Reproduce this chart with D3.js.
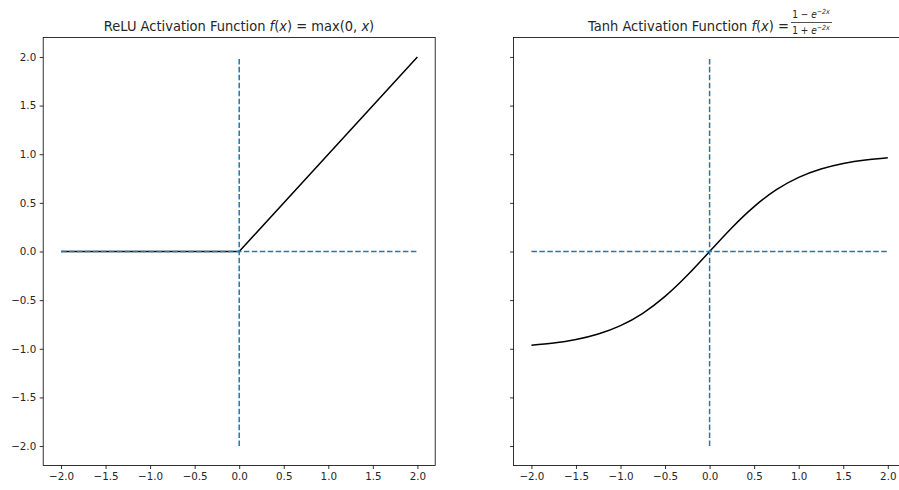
<!DOCTYPE html>
<html>
<head>
<meta charset="utf-8">
<script src="https://cdn.jsdelivr.net/npm/d3@7"></script>
<style>
  body { margin: 0; background: #fff; overflow: hidden; }
  svg { display: block; font-family: "DejaVu Sans", sans-serif; }
  .tick text { font-size: 10.3px; fill: #262626; }
</style>
</head>
<body>
<svg id="chart" width="899" height="490"></svg>
<script>
// tick values shared by both panels
const xTicks = [-2.0, -1.5, -1.0, -0.5, 0.0, 0.5, 1.0, 1.5, 2.0];
const yTicks = [-2.0, -1.5, -1.0, -0.5, 0.0, 0.5, 1.0, 1.5, 2.0];

// relu curve (corner points)
const reluX = [-2, 0, 2];
const reluY = [0, 0, 2];

// tanh curve
const tanhX = [-2, -1.75, -1.5, -1.25, -1, -0.75, -0.5, -0.25, 0, 0.25, 0.5, 0.75, 1, 1.25, 1.5, 1.75, 2];
const tanhY = [-0.964, -0.941, -0.905, -0.848, -0.762, -0.635, -0.462, -0.245, 0, 0.245, 0.462, 0.635, 0.762, 0.848, 0.905, 0.941, 0.964];

// dashed reference axes
const hLineX = [-2, 2];
const vLineY = [-2, 2];

const svg = d3.select('#chart');
const panelW = 392, plotTop = 37.5, plotBottom = 465.5;
const panels = [
  { left: 43.2, showY: true },
  { left: 513.6, showY: false }
];

panels.forEach((p, i) => {
  const x = d3.scaleLinear().domain([-2.2, 2.2]).range([p.left, p.left + panelW]);
  const y = d3.scaleLinear().domain([-2.2, 2.2]).range([plotBottom, plotTop]);
  const g = svg.append('g');

  const xAxis = g.append('g')
    .attr('transform', `translate(0,${plotBottom})`)
    .call(d3.axisBottom(x).tickValues(xTicks).tickSize(3.5).tickPadding(3.5)
      .tickFormat(d => d3.format('.1f')(d).replace('-', '\u2212')));
  const yAxis = g.append('g')
    .attr('transform', `translate(${p.left},0)`)
    .call(d3.axisLeft(y).tickValues(yTicks).tickSize(3.5).tickPadding(3.5)
      .tickFormat(d => p.showY ? d3.format('.1f')(d).replace('-', '\u2212') : ''));
  [xAxis, yAxis].forEach(a => {
    a.select('.domain').remove();
    a.attr('font-family', null).attr('font-size', null);
    a.selectAll('.tick line').attr('stroke', '#000').attr('stroke-width', 0.8);
  });

  const line = d3.line().x(d => x(d[0])).y(d => y(d[1]));
  if (i === 0) {
    g.append('path')
      .datum(d3.zip(reluX, reluY))
      .attr('d', line)
      .attr('fill', 'none').attr('stroke', '#000').attr('stroke-width', 1.5);
  } else {
    g.append('path')
      .datum(d3.zip(tanhX, tanhY))
      .attr('d', line.curve(d3.curveNatural))
      .attr('fill', 'none').attr('stroke', '#000').attr('stroke-width', 1.5);
  }

  const dashLine = d3.line().x(d => x(d[0])).y(d => y(d[1]));
  g.append('path')
    .datum(hLineX.map(v => [v, 0]))
    .attr('d', dashLine)
    .attr('fill', 'none').attr('stroke', '#1f77b4').attr('stroke-width', 1.5)
    .attr('stroke-dasharray', '5.55,2.4');
  g.append('path')
    .datum(vLineY.map(v => [0, v]))
    .attr('d', dashLine)
    .attr('fill', 'none').attr('stroke', '#1f77b4').attr('stroke-width', 1.5)
    .attr('stroke-dasharray', '5.55,2.4');

  // frame
  g.append('rect')
    .attr('x', p.left).attr('y', plotTop)
    .attr('width', panelW).attr('height', plotBottom - plotTop)
    .attr('fill', 'none').attr('stroke', '#000').attr('stroke-width', 0.8);
});

// titles (the reference text is a little narrow, so squeeze it horizontally)
const t1 = svg.append('text')
  .attr('transform', 'translate(239,31) scale(0.9,1)')
  .attr('text-anchor', 'middle')
  .attr('font-size', 14.5).attr('fill', '#262626');
t1.append('tspan').text('ReLU Activation Function ');
t1.append('tspan').attr('font-style', 'italic').text('f');
t1.append('tspan').text('(');
t1.append('tspan').attr('font-style', 'italic').text('x');
t1.append('tspan').text(') = max(0, ');
t1.append('tspan').attr('font-style', 'italic').text('x');
t1.append('tspan').text(')');

const t2 = svg.append('text')
  .attr('transform', 'translate(789,31) scale(0.9,1)')
  .attr('text-anchor', 'end')
  .attr('font-size', 14.5).attr('fill', '#262626');
t2.append('tspan').text('Tanh Activation Function ');
t2.append('tspan').attr('font-style', 'italic').text('f');
t2.append('tspan').text('(');
t2.append('tspan').attr('font-style', 'italic').text('x');
t2.append('tspan').text(') = ');

const frac = svg.append('g').attr('fill', '#262626').attr('font-size', 10);
const num = frac.append('text')
  .attr('transform', 'translate(811,18) scale(0.9,1)').attr('text-anchor', 'middle');
num.append('tspan').text('1 \u2212 ');
num.append('tspan').attr('font-style', 'italic').text('e');
num.append('tspan').attr('font-size', 7).attr('dy', -4).attr('font-style', 'italic').text('\u22122x');
const den = frac.append('text')
  .attr('transform', 'translate(811,34) scale(0.9,1)').attr('text-anchor', 'middle');
den.append('tspan').text('1 + ');
den.append('tspan').attr('font-style', 'italic').text('e');
den.append('tspan').attr('font-size', 7).attr('dy', -4).attr('font-style', 'italic').text('\u22122x');
frac.append('line')
  .attr('x1', 791).attr('x2', 832).attr('y1', 22.5).attr('y2', 22.5)
  .attr('stroke', '#262626').attr('stroke-width', 0.8);
</script>
</body>
</html>
